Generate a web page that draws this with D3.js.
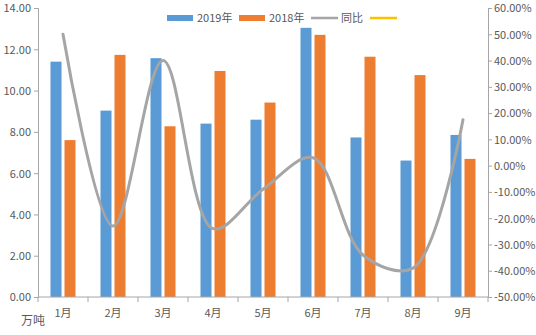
<!DOCTYPE html>
<html><head><meta charset="utf-8">
<script src="https://cdn.jsdelivr.net/npm/d3@7"></script>
<style>body{margin:0;background:#fff}svg text{font-family:"Noto Sans CJK SC","Noto Sans",sans-serif;fill:#595959}</style>
</head><body><svg id="c" width="536" height="335"></svg>
<script>
const categories = ["1月","2月","3月","4月","5月","6月","7月","8月","9月"];
const values2019 = [11.40, 9.03, 11.57, 8.40, 8.59, 13.04, 7.73, 6.61, 7.85];
const values2018 = [7.60, 11.73, 8.27, 10.95, 9.42, 12.70, 11.64, 10.75, 6.69];
const yoy = [50.0, -23.0, 40.0, -24.0, -9.0, 3.0, -34.0, -39.0, 17.5];
const leftTicks = [0,2,4,6,8,10,12,14];
const rightTicks = [-50,-40,-30,-20,-10,0,10,20,30,40,50,60];
const seriesNames = ["2019年","2018年","同比",""];
const colors = ["#5B9BD5","#ED7D31","#A5A5A5","#FFC000"];

const svg = d3.select("#c");
const L = 38, R = 488, T = 8, B = 297;
const x = d3.scaleBand().domain(categories).range([L, R]);
const yL = d3.scaleLinear().domain([0,14]).range([B, T]);
const yR = d3.scaleLinear().domain([-50,60]).range([B, T]);
const axisColor = "#A6A6A6";

const gl = svg.append("g").attr("transform",`translate(${L},0)`)
  .call(d3.axisLeft(yL).tickValues(leftTicks).tickFormat(d3.format(".2f")).tickSizeOuter(0).tickSize(4).tickPadding(3));
const gr = svg.append("g").attr("transform",`translate(${R},0)`)
  .call(d3.axisRight(yR).tickValues(rightTicks).tickFormat(d=>d.toFixed(2)+"%").tickSizeOuter(0).tickSize(4).tickPadding(2));
[gl,gr].forEach(g=>{
  g.select(".domain").attr("stroke",axisColor);
  g.selectAll(".tick line").attr("stroke",axisColor);
  g.selectAll("text").attr("font-size",11).attr("dy","0.35em").style("fill","#595959");
});

const bw = 11, gap = 3;
const bars = svg.append("g");
categories.forEach((c,i)=>{
  const cx = x(c) + x.bandwidth()/2;
  bars.append("rect").attr("x", cx - gap/2 - bw).attr("width", bw)
    .attr("y", yL(values2019[i])).attr("height", B - yL(values2019[i])).attr("fill", colors[0]);
  bars.append("rect").attr("x", cx + gap/2).attr("width", bw)
    .attr("y", yL(values2018[i])).attr("height", B - yL(values2018[i])).attr("fill", colors[1]);
});

const gb = svg.append("g").attr("transform",`translate(0,${B})`);
gb.append("line").attr("x1",L).attr("x2",R).attr("stroke",axisColor);
const bounds = categories.map(c=>x(c)).concat([R]);
gb.selectAll("line.t").data(bounds).join("line").attr("class","t")
  .attr("x1",d=>d).attr("x2",d=>d).attr("y1",0).attr("y2",5).attr("stroke",axisColor);
gb.selectAll("text").data(categories).join("text")
  .attr("x",d=>x(d)+x.bandwidth()/2).attr("y",20).attr("text-anchor","middle")
  .attr("font-size",11).text(d=>d);

const line = d3.line().x((d,i)=>x(categories[i])+x.bandwidth()/2).y(d=>yR(d)).curve(d3.curveCatmullRom.alpha(0.5));
svg.append("path").datum(yoy).attr("d",line).attr("fill","none")
  .attr("stroke",colors[2]).attr("stroke-width",3).attr("stroke-linecap","round");

svg.append("text").attr("x",21).attr("y",325).attr("font-size",12).text("万吨");

const lg = svg.append("g");
const lx = [167, 239, 311, 370];
lx.forEach((px,i)=>{
  if (i<2) lg.append("rect").attr("x",px).attr("y",15).attr("width",26).attr("height",6).attr("fill",colors[i]);
  else lg.append("line").attr("x1",px).attr("x2",px+27).attr("y1",18).attr("y2",18).attr("stroke",colors[i]).attr("stroke-width",2.5);
  if (seriesNames[i]) lg.append("text").attr("x",px+30).attr("y",22).attr("font-size",11).text(seriesNames[i]);
});
</script></body></html>
